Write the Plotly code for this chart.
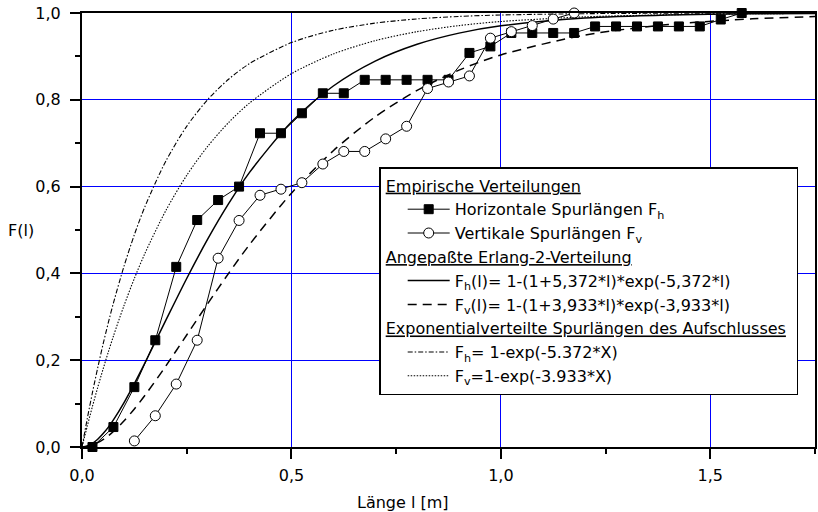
import plotly.graph_objects as go

# Empirical distributions
x_h = [0.025, 0.075, 0.125, 0.175, 0.225, 0.275, 0.325, 0.375, 0.425, 0.475, 0.525, 0.575,
       0.625, 0.675, 0.725, 0.775, 0.825, 0.875, 0.925, 0.975, 1.025, 1.075, 1.125, 1.175,
       1.225, 1.275, 1.325, 1.375, 1.425, 1.475, 1.525, 1.575]
y_h = [0.0, 0.046, 0.138, 0.246, 0.415, 0.523, 0.569, 0.600, 0.723, 0.723, 0.769, 0.815,
       0.815, 0.846, 0.846, 0.846, 0.846, 0.846, 0.908, 0.923, 0.954, 0.954, 0.954, 0.954,
       0.969, 0.969, 0.969, 0.969, 0.969, 0.969, 0.985, 1.0]

x_v = [0.125, 0.175, 0.225, 0.275, 0.325, 0.375, 0.425, 0.475, 0.525, 0.575, 0.625,
       0.675, 0.725, 0.775, 0.825, 0.875, 0.925, 0.975, 1.025, 1.075, 1.125, 1.175]
y_v = [0.014, 0.072, 0.145, 0.246, 0.435, 0.522, 0.580, 0.594, 0.609, 0.652, 0.681,
       0.681, 0.710, 0.739, 0.826, 0.841, 0.855, 0.942, 0.957, 0.971, 0.986, 1.0]

# Fitted / model curves
x_fit = [0, 0.0125, 0.025, 0.0375, 0.05, 0.0625, 0.075, 0.1, 0.125, 0.15, 0.2, 0.25, 0.3,
         0.35, 0.4, 0.5, 0.6, 0.7, 0.8, 0.9, 1.0, 1.2, 1.4, 1.6, 1.75]
erlang_h = [0, 0.0022, 0.0083, 0.0178, 0.0303, 0.0452, 0.0623, 0.1017, 0.1460, 0.1933, 0.2916,
            0.3883, 0.4788, 0.5606, 0.6328, 0.7488, 0.8318, 0.8892, 0.9279, 0.9536, 0.9704,
            0.9882, 0.9954, 0.9982, 0.9991]
erlang_v = [0, 0.0012, 0.0045, 0.0099, 0.0170, 0.0257, 0.0358, 0.0597, 0.0877, 0.1186, 0.1864,
            0.2581, 0.3301, 0.4001, 0.4664, 0.5849, 0.6827, 0.7608, 0.8217, 0.8683, 0.9034,
            0.9490, 0.9736, 0.9865, 0.9919]
exp_h = [0, 0.0650, 0.1257, 0.1825, 0.2356, 0.2852, 0.3316, 0.4156, 0.4891, 0.5533, 0.6585,
         0.7389, 0.8004, 0.8474, 0.8834, 0.9318, 0.9602, 0.9767, 0.9864, 0.9921, 0.9954,
         0.9984, 0.9995, 0.9998, 0.9999]
exp_v = [0, 0.0480, 0.0937, 0.1371, 0.1785, 0.2179, 0.2555, 0.3252, 0.3884, 0.4456, 0.5446,
         0.6259, 0.6927, 0.7476, 0.7926, 0.8601, 0.9056, 0.9363, 0.9570, 0.9710, 0.9804,
         0.9911, 0.9959, 0.9982, 0.9990]

names = {
    "h": "Horizontale Spurlängen F<sub>h</sub>",
    "v": "Vertikale Spurlängen F<sub>v</sub>",
    "eh": "F<sub>h</sub>(l)= 1-(1+5,372*l)*exp(-5,372*l)",
    "ev": "F<sub>v</sub>(l)= 1-(1+3,933*l)*exp(-3,933*l)",
    "xh": "F<sub>h</sub>= 1-exp(-5.372*X)",
    "xv": "F<sub>v</sub>=1-exp(-3.933*X)",
}
groups = {
    "g1": "<u>Empirische Verteilungen</u>",
    "g2": "<u>Angepaßte Erlang-2-Verteilung</u>",
    "g3": "<u>Exponentialverteilte Spurlängen des Aufschlusses</u>",
}

FONT = "DejaVu Sans"
GRID = "#0000ff"
fig = go.Figure()

gt_font = dict(family=FONT, size=16, color="black")

fig.add_trace(go.Scatter(x=x_fit, y=exp_h, mode="lines", line=dict(color="black", width=1.1, dash="5px,2px,1.5px,2px", shape="spline", smoothing=0.8),
                         name=names["xh"], legendgroup="g3", legendgrouptitle=dict(text=groups["g3"], font=gt_font), legendrank=5))
fig.add_trace(go.Scatter(x=x_fit, y=exp_v, mode="lines", line=dict(color="black", width=1.1, dash="1.5px,1.5px", shape="spline", smoothing=0.8),
                         name=names["xv"], legendgroup="g3", legendrank=6))
fig.add_trace(go.Scatter(x=x_fit, y=erlang_h, mode="lines", line=dict(color="black", width=1.5, shape="spline", smoothing=0.8),
                         name=names["eh"], legendgroup="g2", legendgrouptitle=dict(text=groups["g2"], font=gt_font), legendrank=3))
fig.add_trace(go.Scatter(x=x_fit, y=erlang_v, mode="lines", line=dict(color="black", width=1.5, dash="9px,6px", shape="spline", smoothing=0.8),
                         name=names["ev"], legendgroup="g2", legendrank=4))
fig.add_trace(go.Scatter(x=x_h, y=y_h, mode="lines+markers", line=dict(color="black", width=1),
                         marker=dict(symbol="square", size=9, color="black", line=dict(color="black", width=1)),
                         cliponaxis=False,
                         name=names["h"], legendgroup="g1", legendgrouptitle=dict(text=groups["g1"], font=gt_font), legendrank=1))
fig.add_trace(go.Scatter(x=x_v, y=y_v, mode="lines+markers", line=dict(color="black", width=1),
                         marker=dict(symbol="circle", size=10, color="white", line=dict(color="black", width=1)),
                         cliponaxis=False,
                         name=names["v"], legendgroup="g1", legendrank=2))

L, R, T, B = 82, 1, 13, 65
W, H = 818, 512
pw, ph = W - L - R, H - T - B

axis_common = dict(
    showline=True, linecolor="black", linewidth=2, mirror=True,
    ticks="outside", ticklen=10, tickwidth=2, tickcolor="black",
    showgrid=True, gridcolor=GRID, gridwidth=1,
    zeroline=False, tickformat=".1f",
    tickfont=dict(family=FONT, size=16, color="black"),
)

fig.update_layout(
    width=W, height=H,
    margin=dict(l=L, r=R, t=T, b=B),
    paper_bgcolor="white", plot_bgcolor="white",
    separators=",.",
    font=dict(family=FONT, size=16, color="black"),
    xaxis=dict(range=[0, 1.75], tickmode="linear", tick0=0, dtick=0.5, ticklabelstandoff=3,
               minor=dict(ticks="outside", ticklen=5, tickwidth=2, tickcolor="black", dtick=0.25,
                          showgrid=False, gridcolor=GRID),
               **axis_common),
    yaxis=dict(range=[0, 1], tickmode="linear", tick0=0, dtick=0.2, ticklabelstandoff=6,
               minor=dict(ticks="outside", ticklen=5, tickwidth=2, tickcolor="black", dtick=0.1,
                          showgrid=False, gridcolor=GRID),
               **axis_common),
    showlegend=True,
    legend=dict(x=(380 - L) / pw, y=(H - B - 167) / ph, xanchor="left", yanchor="top",
                bgcolor="white", bordercolor="black", borderwidth=1.5,
                font=dict(family=FONT, size=16, color="black"),
                tracegroupgap=0, traceorder="grouped", itemwidth=42, indentation=22),
    annotations=[
        dict(text="F(l)", xref="paper", yref="paper", x=(20.5 - L) / pw, y=0.5,
             showarrow=False, xanchor="center", yanchor="middle", font=dict(family=FONT, size=16)),
        dict(text="Länge l [m]", xref="paper", yref="paper", x=(452 - L) / pw, y=(H - B - 502) / ph,
             showarrow=False, xanchor="right", yanchor="middle", font=dict(family=FONT, size=16)),
    ],
)

fig.write_html("out.html")
